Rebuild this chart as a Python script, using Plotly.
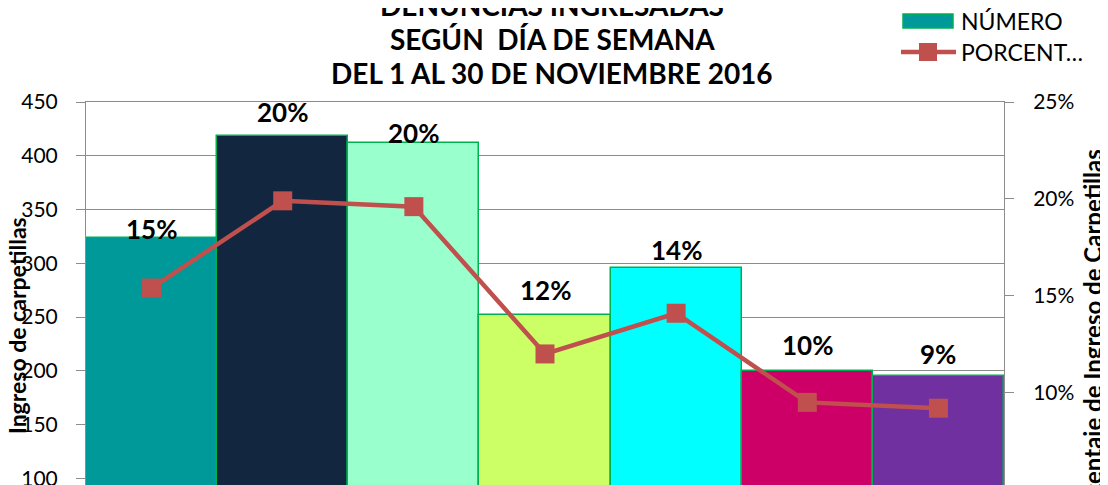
import plotly.graph_objects as go

# ---------------- data ----------------
categories = ["LUNES", "MARTES", "MIÉRCOLES", "JUEVES", "VIERNES", "SÁBADO", "DOMINGO"]
numero = [324, 418, 412, 252, 296, 200, 195]
porcentaje = [0.154, 0.199, 0.196, 0.120, 0.141, 0.095, 0.092]
bar_labels = ["15%", "20%", "20%", "12%", "14%", "10%", "9%"]
left_ticks = [100, 150, 200, 250, 300, 350, 400, 450]
right_ticks = [0.05, 0.10, 0.15, 0.20, 0.25]
title_lines = ["DENUNCIAS INGRESADAS", "SEGÚN  DÍA DE SEMANA", "DEL 1 AL 30 DE NOVIEMBRE 2016"]
series_names = ["NÚMERO", "PORCENT…"]

# ---------------- style ----------------
bar_colors = ["#009999", "#12263F", "#99FFCC", "#CCFF66", "#00FFFF", "#CC0066", "#7030A0"]
label_shift = [9, 24, 10, 25, 18, 26, 22]
line_color = "#C0504D"
border_green = "#00B050"
grid_color = "#8C8C8C"
FONT = "Lato"

OFF = 8  # page body margin
W, H = 1108 - OFF, 485 - OFF
# screen coordinates of the plot area
S_L, S_R, S_T, S_B = 86, 1004, 102, 485
L, R, T, B = S_L - OFF, S_R - OFF, S_T - OFF, S_B - OFF
px_per_unit = 1.0755
px_per_pct = 1938.0

def px(sx):
    return (sx - OFF - L) / (R - L)

def py(sy):
    return (B - (sy - OFF)) / (B - T)

fig = go.Figure()
fig.add_trace(go.Bar(
    x=categories, y=numero, name=series_names[0],
    marker=dict(color=bar_colors, line=dict(color=border_green, width=1.5)),
    width=1.0, showlegend=False, yaxis="y",
))
fig.add_trace(go.Scatter(
    x=categories, y=porcentaje, name=series_names[1], mode="lines+markers",
    line=dict(color=line_color, width=4.5),
    marker=dict(symbol="square", size=19, color=line_color),
    showlegend=False, yaxis="y2",
))

annotations = []
for c, v, lab, s in zip(categories, numero, bar_labels, label_shift):
    annotations.append(dict(x=c, y=v, xref="x", yref="y", text=lab, showarrow=False,
                            yanchor="middle", yshift=s,
                            font=dict(family=FONT, size=26, color="black", weight="bold")))

title_y = [5, 39, 73]
for line, ty in zip(title_lines, title_y):
    annotations.append(dict(x=px(552), y=py(ty), xref="paper", yref="paper", text=line,
                            showarrow=False, xanchor="center", yanchor="middle",
                            font=dict(family=FONT, size=28, color="black", weight="bold")))

# axis titles
annotations.append(dict(x=px(17), y=py(326), xref="paper", yref="paper",
                        text="Ingreso de carpetillas", textangle=-90, showarrow=False,
                        xanchor="center", yanchor="middle",
                        font=dict(family=FONT, size=23, color="black", weight="bold")))
annotations.append(dict(x=px(1092), y=py(341), xref="paper", yref="paper",
                        text="Porcentaje de Ingreso de Carpetillas", textangle=-90, showarrow=False,
                        xanchor="center", yanchor="middle",
                        font=dict(family=FONT, size=24, color="black", weight="bold")))

# legend texts
annotations.append(dict(x=px(959), y=py(21), xref="paper", yref="paper", text=series_names[0],
                        showarrow=False, xanchor="left", yanchor="middle",
                        font=dict(family=FONT, size=23, color="black")))
annotations.append(dict(x=px(959), y=py(52), xref="paper", yref="paper", text=series_names[1],
                        showarrow=False, xanchor="left", yanchor="middle",
                        font=dict(family=FONT, size=23, color="black")))

shapes = [
    dict(type="rect", xref="paper", yref="paper", x0=px(903), x1=px(953), y0=py(28), y1=py(14),
         fillcolor=bar_colors[0], line=dict(color=border_green, width=1.5)),
    dict(type="line", xref="paper", yref="paper", x0=px(901), x1=px(956), y0=py(52), y1=py(52),
         line=dict(color=line_color, width=4.5)),
    dict(type="rect", xref="paper", yref="paper", x0=px(919), x1=px(937), y0=py(61), y1=py(43),
         fillcolor=line_color, line=dict(width=0)),
]

fig.update_layout(
    width=W, height=H,
    margin=dict(l=L, r=W - R, t=T, b=H - B, pad=0, autoexpand=False),
    paper_bgcolor="white", plot_bgcolor="white",
    bargap=0,
    annotations=annotations, shapes=shapes,
    xaxis=dict(showticklabels=False, showgrid=False, showline=True, mirror=True,
               linecolor=grid_color, linewidth=1, ticks="", automargin=False),
    yaxis=dict(range=[450 - (B - T) / px_per_unit, 450], tickvals=left_ticks,
               showgrid=True, gridcolor=grid_color, gridwidth=1,
               showline=True, linecolor=grid_color, linewidth=1,
               ticks="outside", ticklen=9, tickcolor=grid_color,
               ticklabelstandoff=14, ticklabeloverflow="allow", automargin=False,
               tickfont=dict(family=FONT, size=21, color="black"), zeroline=False),
    yaxis2=dict(range=[0.25 - (B - T) / px_per_pct, 0.25], tickvals=right_ticks,
                tickformat=".0%", overlaying="y", side="right", showgrid=False,
                showline=True, linecolor=grid_color, linewidth=1,
                ticks="outside", ticklen=9, tickcolor=grid_color,
                ticklabelstandoff=15, ticklabeloverflow="allow", automargin=False,
                tickfont=dict(family=FONT, size=21, color="black"), zeroline=False),
)

fig.write_html("out.html")
